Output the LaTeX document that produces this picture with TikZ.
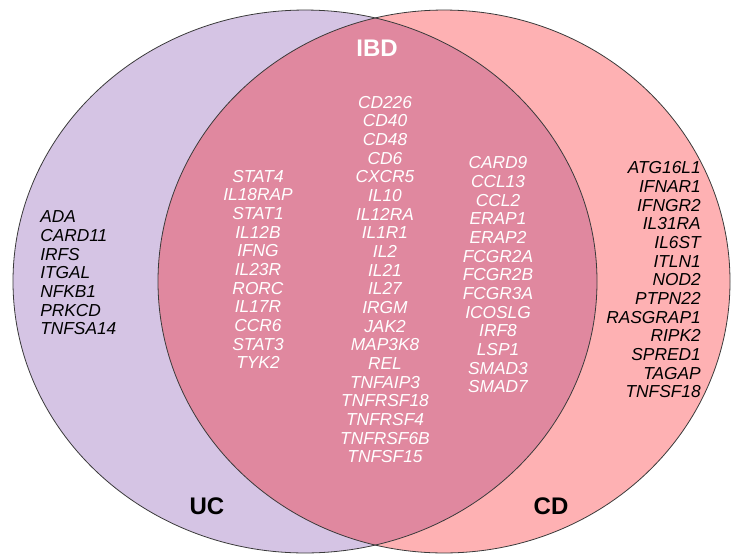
\documentclass[tikz,border=0pt]{standalone}
\usepackage{fontspec}
\setmainfont{Liberation Sans}
\usepackage{tikz}
\usetikzlibrary{positioning}
\definecolor{ucfill}{HTML}{D5C4E4}
\definecolor{cdfill}{HTML}{FEB1B3}
\definecolor{ibdfill}{HTML}{E0889F}
\definecolor{rimline}{HTML}{3A3A3A}
\tikzset{
    genelist/.style={font=\fontsize{13}{14}\selectfont\itshape, inner sep=0pt},
    sharedlist/.style={genelist, text=white, align=center},
    setlabel/.style={font=\fontsize{18}{20}\selectfont\bfseries, inner sep=0pt},
    rim/.style={draw=rimline, line width=0.6pt}
}

\begin{document}
\begin{tikzpicture}[x=0.75pt, y=-0.75pt]
\useasboundingbox (0,0) rectangle (732,554);
\fill[ucfill] (305,281.5) ellipse [x radius=219pt, y radius=203.6pt];
\fill[cdfill] (444,281.5) ellipse [x radius=214.5pt, y radius=203.6pt];
\begin{scope}
    \clip (305,281.5) ellipse [x radius=219pt, y radius=203.6pt];
    \fill[ibdfill] (444,281.5) ellipse [x radius=214.5pt, y radius=203.6pt];
\end{scope}
\draw[rim] (305,281.5) ellipse [x radius=219pt, y radius=203.6pt];
\draw[rim] (444,281.5) ellipse [x radius=214.5pt, y radius=203.6pt];

\node[setlabel, text=white] (ibd) at (377,48) {IBD};
\node[setlabel] (uc) at (207,506) {UC};
\node[setlabel] (cd) at (551,506) {CD};

\node[genelist, align=left, anchor=west] (uconly) at (40,273) {ADA\\CARD11\\IRFS\\ITGAL\\NFKB1\\PRKCD\\TNFSA14};
\node[sharedlist] (ibdleft) at (258,269.5) {STAT4\\IL18RAP\\STAT1\\IL12B\\IFNG\\IL23R\\RORC\\IL17R\\CCR6\\STAT3\\TYK2};
\node[sharedlist] (ibdmid) at (385,279.5) {CD226\\CD40\\CD48\\CD6\\CXCR5\\IL10\\IL12RA\\IL1R1\\IL2\\IL21\\IL27\\IRGM\\JAK2\\MAP3K8\\REL\\TNFAIP3\\TNFRSF18\\TNFRSF4\\TNFRSF6B\\TNFSF15};
\node[sharedlist] (ibdright) at (498,275) {CARD9\\CCL13\\CCL2\\ERAP1\\ERAP2\\FCGR2A\\FCGR2B\\FCGR3A\\ICOSLG\\IRF8\\LSP1\\SMAD3\\SMAD7};
\node[genelist, align=right, anchor=east] (cdonly) at (701,280) {ATG16L1\\IFNAR1\\IFNGR2\\IL31RA\\IL6ST\\ITLN1\\NOD2\\PTPN22\\RASGRAP1\\RIPK2\\SPRED1\\TAGAP\\TNFSF18};
\end{tikzpicture}
\end{document}
